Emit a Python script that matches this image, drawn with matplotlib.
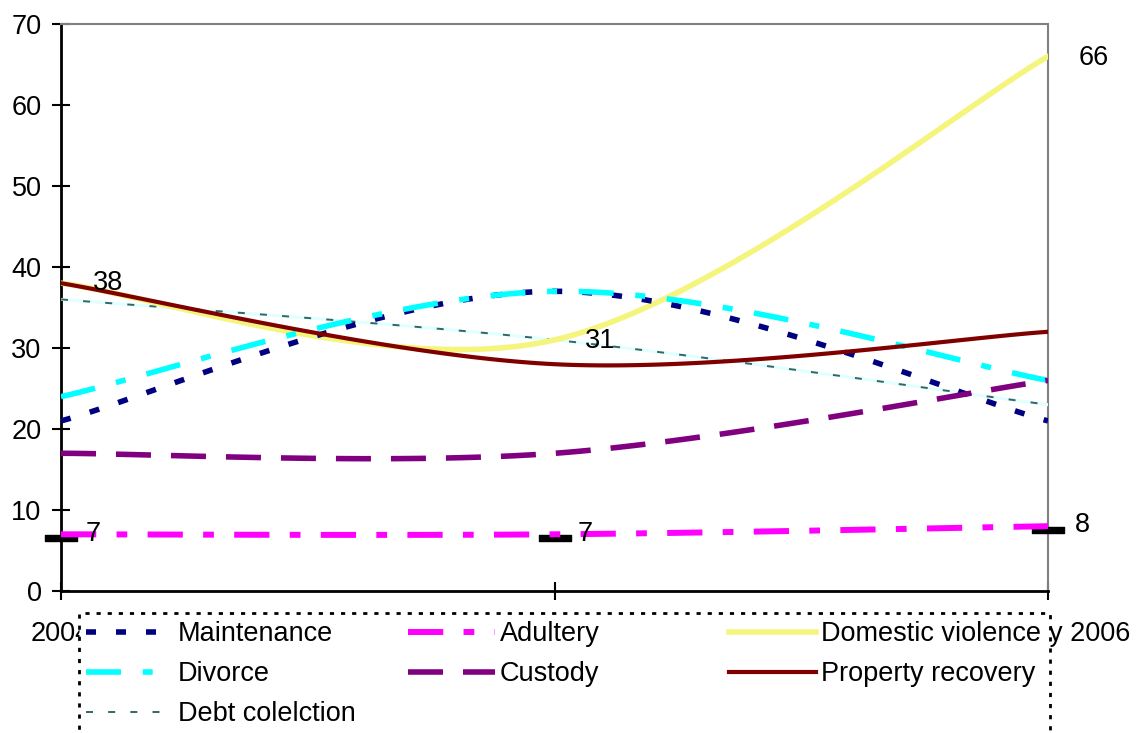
import numpy as np
import matplotlib
matplotlib.use("Agg")
import matplotlib.pyplot as plt
from matplotlib.patches import Rectangle
from matplotlib.path import Path
import matplotlib.transforms as mtransforms

plt.rcParams['font.family'] = ['Liberation Sans', 'DejaVu Sans']

categories = ["2004", "2005", "January 2006"]
maintenance = [21, 37, 21]
adultery = [7, 7, 8]
domestic_violence = [38, 31, 66]
divorce = [24, 37, 26]
custody = [17, 17, 26]
property_recovery = [38, 28, 32]
debt_collection = [36, 31, 23]


def smooth(ys, n=60):
    xs = np.arange(len(ys), dtype=float)
    pts = np.column_stack([xs, np.asarray(ys, float)])
    out = []
    m = len(pts)
    for i in range(m - 1):
        p0 = pts[i - 1] if i > 0 else pts[i]
        p1 = pts[i]
        p2 = pts[i + 1]
        p3 = pts[i + 2] if i + 2 < m else pts[i + 1]
        c1 = p1 + (p2 - p0) / 6.0
        c2 = p2 - (p3 - p1) / 6.0
        t = np.linspace(0, 1, n)[:, None]
        seg = ((1 - t) ** 3) * p1 + 3 * ((1 - t) ** 2) * t * c1 + 3 * (1 - t) * t ** 2 * c2 + t ** 3 * p2
        out.append(seg if i == 0 else seg[1:])
    s = np.vstack(out)
    return s[:, 0], s[:, 1]


W, H = 1142, 733
FS = 19.5
fig = plt.figure(figsize=(W / 100, H / 100), dpi=100)
ax = fig.add_axes([61 / W, 1 - 591 / H, (1048 - 61) / W, (591 - 24) / H])

lines = {}
x, y = smooth(maintenance)
lines['Maintenance'] = ax.plot(x, y, color='#000080', lw=4, ls=(0, (1.8, 3.6)), zorder=4)[0]
x, y = smooth(divorce)
lines['Divorce'] = ax.plot(x, y, color='#00FFFF', lw=4, ls=(0, (6.3, 3.9, 1.8, 3.9)), zorder=4)[0]
x, y = smooth(debt_collection)
ax.plot(x, y, color='#E0FFFF', lw=2.2, zorder=3)
lines['Debt colelction'] = ax.plot(x, y, color='#336666', lw=1.4, ls=(0, (3.6, 7.8)), zorder=3)[0]
x, y = smooth(custody)
lines['Custody'] = ax.plot(x, y, color='#800080', lw=4, ls=(0, (6.3, 3.6)), zorder=4)[0]
x, y = smooth(domestic_violence)
lines['Domestic violence'] = ax.plot(x, y, color='#F5F57E', lw=4, zorder=3)[0]
x, y = smooth(property_recovery)
lines['Property recovery'] = ax.plot(x, y, color='#800000', lw=3, zorder=5)[0]

# black markers on adultery points
rect = Path([(-1, -0.18), (1, -0.18), (1, 0.18), (-1, 0.18), (-1, -0.18)],
            [Path.MOVETO, Path.LINETO, Path.LINETO, Path.LINETO, Path.CLOSEPOLY])
off = mtransforms.offset_copy(ax.transData, fig=fig, x=0, y=-4, units='dots')
ax.plot(range(3), adultery, ls='none', marker=rect, ms=23, color='black',
        mec='black', transform=off, zorder=5, clip_on=False)
x, y = smooth(adultery)
lines['Adultery'] = ax.plot(x, y, color='#FF00FF', lw=4.3, ls=(0, (5.9, 3.4, 1.8, 3.4)), zorder=6, clip_on=False)[0]

# data labels
def lab(xi, yi, txt, dx, dy):
    ax.annotate(txt, (xi, yi), xytext=(dx, dy), textcoords='offset points',
                fontsize=FS, ha='left', va='center', zorder=7, annotation_clip=False)

lab(0, domestic_violence[0], str(domestic_violence[0]), 23, 0)
lab(1, domestic_violence[1], str(domestic_violence[1]), 22, -1)
lab(2, domestic_violence[2], str(domestic_violence[2]), 22, -1)
lab(0, adultery[0], str(adultery[0]), 18, 0)
lab(1, adultery[1], str(adultery[1]), 17, 0)
lab(2, adultery[2], str(adultery[2]), 19, 1)

ax.set_xlim(0, 2)
ax.set_ylim(0, 70)
ax.set_yticks(range(0, 71, 10))
ax.set_xticks(range(3))
ax.set_xticklabels(categories)
ax.tick_params(axis='both', direction='inout', length=13, width=1.5, labelsize=FS, colors='black')
ax.tick_params(axis='x', pad=15)
ax.tick_params(axis='y', pad=7.5)
for s in ['left', 'bottom']:
    ax.spines[s].set_color('black')
    ax.spines[s].set_linewidth(2)
for s in ['top', 'right']:
    ax.spines[s].set_color('#808080')
    ax.spines[s].set_linewidth(1.5)

# legend box
box = Rectangle((79 / W, -0.05), (1050 - 79) / W, 1 - 613 / H + 0.05,
                transform=fig.transFigure, facecolor='white', edgecolor='black',
                lw=2, ls=(0, (1.5, 2.5)), zorder=1)
fig.patches.append(box)

columns = [['Maintenance', 'Divorce', 'Debt colelction'],
           ['Adultery', 'Custody'],
           ['Domestic violence', 'Property recovery']]
col_x = [86, 408, 729]
for cx, names in zip(col_x, columns):
    leg = fig.legend([lines[k] for k in names], names, loc='upper left',
                     bbox_to_anchor=(cx / W, 1 - 621 / H), frameon=False, fontsize=FS,
                     handlelength=3.2, handletextpad=0.2, labelspacing=0.52,
                     borderaxespad=0, borderpad=0)
    leg.set_zorder(2)

fig.savefig('out.png', dpi=100)
